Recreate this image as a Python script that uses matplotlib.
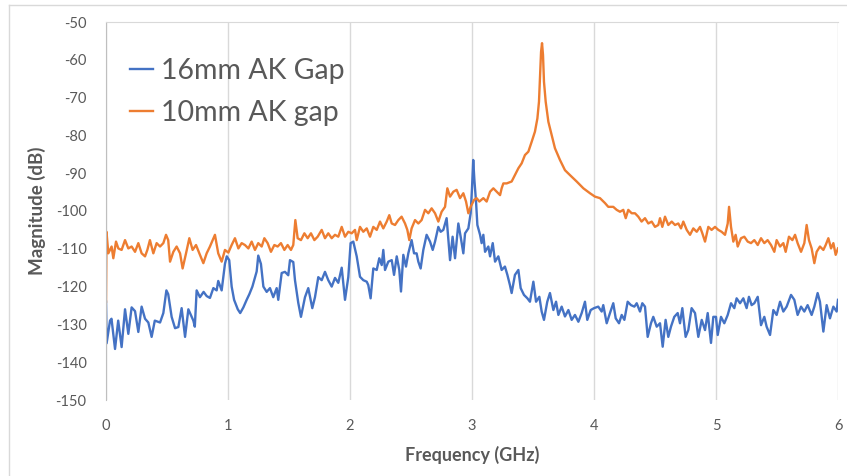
import matplotlib
matplotlib.use("Agg")
import matplotlib.pyplot as plt
from matplotlib.lines import Line2D

plt.rcParams['font.family'] = ['Lato', 'DejaVu Sans']
plt.rcParams['axes.unicode_minus'] = False

# 16mm AK gap (blue) - frequency in GHz, magnitude in dB
f_16 = [0.000, 0.005, 0.033, 0.045, 0.074, 0.100, 0.128, 0.156, 0.183, 0.210,
        0.238, 0.265, 0.292, 0.320, 0.347, 0.374, 0.400, 0.443, 0.470, 0.495,
        0.510, 0.538, 0.566, 0.593, 0.620, 0.648, 0.675, 0.716, 0.728, 0.743,
        0.770, 0.800, 0.825, 0.852, 0.880, 0.907, 0.920, 0.948, 0.975, 0.990,
        1.010, 1.030, 1.050, 1.080, 1.100, 1.126, 1.153, 1.175, 1.200, 1.235,
        1.248, 1.270, 1.290, 1.317, 1.344, 1.371, 1.399, 1.412, 1.440, 1.467,
        1.494, 1.508, 1.535, 1.549, 1.576, 1.598, 1.631, 1.658, 1.691, 1.713,
        1.740, 1.768, 1.795, 1.822, 1.850, 1.877, 1.904, 1.932, 1.959, 1.986,
        2.005, 2.027, 2.055, 2.082, 2.109, 2.137, 2.150, 2.169, 2.191, 2.219,
        2.240, 2.260, 2.273, 2.287, 2.314, 2.342, 2.361, 2.383, 2.404, 2.418,
        2.437, 2.459, 2.478, 2.505, 2.525, 2.546, 2.560, 2.579, 2.601, 2.628,
        2.656, 2.678, 2.697, 2.724, 2.743, 2.765, 2.792, 2.820, 2.841, 2.861,
        2.888, 2.907, 2.929, 2.943, 2.970, 2.989, 3.000, 3.010, 3.020, 3.033,
        3.044, 3.066, 3.079, 3.093, 3.107, 3.134, 3.148, 3.170, 3.189, 3.216,
        3.243, 3.270, 3.290, 3.311, 3.325, 3.352, 3.380, 3.399, 3.426, 3.454,
        3.475, 3.503, 3.525, 3.552, 3.571, 3.590, 3.617, 3.639, 3.667, 3.689,
        3.708, 3.735, 3.762, 3.790, 3.817, 3.844, 3.872, 3.899, 3.926, 3.945,
        3.973, 4.000, 4.035, 4.063, 4.076, 4.104, 4.131, 4.158, 4.178, 4.205,
        4.227, 4.249, 4.276, 4.303, 4.331, 4.350, 4.377, 4.396, 4.418, 4.440,
        4.467, 4.486, 4.514, 4.541, 4.563, 4.587, 4.609, 4.631, 4.658, 4.686,
        4.705, 4.724, 4.751, 4.773, 4.800, 4.828, 4.855, 4.883, 4.910, 4.932,
        4.959, 4.978, 5.000, 5.014, 5.041, 5.068, 5.096, 5.123, 5.150, 5.169,
        5.197, 5.224, 5.251, 5.270, 5.292, 5.314, 5.342, 5.369, 5.396, 5.415,
        5.443, 5.470, 5.497, 5.525, 5.552, 5.579, 5.615, 5.642, 5.669, 5.697,
        5.724, 5.751, 5.784, 5.806, 5.833, 5.852, 5.880, 5.907, 5.934, 5.962,
        5.989, 6.000]
db_16 = [-124.0, -135.0, -129.0, -128.5, -136.5, -129.0, -136.0, -126.0, -132.5, -125.5,
         -126.5, -132.0, -125.3, -128.5, -129.5, -133.3, -129.0, -129.5, -127.0, -121.0,
         -122.0, -128.0, -131.0, -130.7, -125.7, -133.3, -126.0, -129.0, -130.6, -121.0,
         -122.8, -121.4, -122.5, -123.0, -120.4, -121.0, -118.5, -121.0, -114.0, -112.0,
         -113.0, -120.0, -123.5, -126.0, -127.0, -125.5, -123.5, -122.0, -120.0, -116.0,
         -111.8, -114.0, -120.0, -121.4, -120.4, -122.8, -120.4, -123.5, -116.4, -116.1,
         -117.0, -113.0, -113.5, -118.3, -124.3, -128.0, -122.8, -120.4, -125.7, -122.8,
         -117.5, -118.3, -116.1, -118.3, -120.0, -117.7, -119.0, -115.0, -123.5, -117.5,
         -108.5, -108.1, -112.0, -117.4, -118.3, -118.7, -119.6, -123.1, -115.2, -115.6,
         -112.5, -114.3, -110.3, -115.6, -113.4, -113.0, -116.9, -112.0, -115.6, -121.3,
         -111.6, -114.7, -111.2, -107.7, -111.2, -111.2, -113.4, -115.2, -110.3, -106.3,
         -108.1, -110.3, -108.1, -104.2, -105.5, -105.0, -101.9, -113.0, -106.8, -112.5,
         -103.3, -106.8, -111.2, -105.9, -104.6, -100.6, -94.0, -86.5, -92.0, -97.5,
         -103.7, -106.3, -108.5, -106.3, -110.8, -109.4, -112.0, -108.5, -113.4, -112.0,
         -115.6, -114.7, -116.9, -119.6, -121.7, -116.9, -115.6, -120.4, -122.2, -123.1,
         -124.0, -118.7, -124.0, -122.7, -126.6, -128.8, -124.0, -121.7, -126.2, -124.0,
         -127.5, -125.3, -127.9, -126.2, -128.8, -127.5, -129.3, -127.0, -124.0, -128.8,
         -126.2, -125.7, -125.3, -126.6, -124.9, -129.7, -127.0, -124.4, -128.4, -129.7,
         -127.5, -128.8, -124.0, -124.9, -125.3, -124.4, -126.6, -124.4, -125.3, -133.3,
         -129.7, -128.0, -130.6, -129.7, -135.9, -128.8, -133.3, -130.6, -128.0, -127.0,
         -129.7, -125.7, -133.3, -131.5, -125.7, -127.0, -133.3, -128.8, -131.5, -127.0,
         -134.9, -128.0, -128.0, -132.8, -128.0, -129.7, -127.5, -124.4, -125.7, -123.1,
         -124.4, -123.1, -125.7, -122.7, -124.9, -124.4, -122.7, -130.2, -128.0, -130.6,
         -132.8, -126.2, -127.5, -124.0, -126.6, -125.3, -122.2, -123.5, -127.5, -125.3,
         -126.6, -124.9, -127.5, -125.3, -121.7, -124.0, -131.9, -124.9, -128.4, -125.3,
         -126.6, -123.5]

# 10mm AK gap (orange)
f_10 = [0.000, 0.004, 0.019, 0.046, 0.060, 0.082, 0.101, 0.128, 0.156, 0.183,
        0.210, 0.238, 0.265, 0.292, 0.320, 0.339, 0.360, 0.388, 0.415, 0.443,
        0.470, 0.492, 0.510, 0.525, 0.552, 0.579, 0.607, 0.628, 0.656, 0.683,
        0.710, 0.738, 0.765, 0.798, 0.825, 0.852, 0.893, 0.920, 0.948, 0.975,
        1.003, 1.030, 1.057, 1.085, 1.112, 1.139, 1.167, 1.194, 1.221, 1.248,
        1.276, 1.298, 1.325, 1.352, 1.380, 1.407, 1.434, 1.462, 1.489, 1.516,
        1.535, 1.552, 1.571, 1.598, 1.626, 1.653, 1.680, 1.708, 1.735, 1.768,
        1.795, 1.822, 1.850, 1.877, 1.904, 1.932, 1.959, 1.986, 2.014, 2.041,
        2.055, 2.082, 2.109, 2.137, 2.164, 2.191, 2.219, 2.246, 2.273, 2.301,
        2.322, 2.342, 2.369, 2.396, 2.423, 2.451, 2.470, 2.486, 2.505, 2.533,
        2.560, 2.587, 2.615, 2.642, 2.669, 2.697, 2.724, 2.751, 2.779, 2.798,
        2.820, 2.847, 2.874, 2.902, 2.929, 2.951, 2.970, 2.989, 3.016, 3.038,
        3.060, 3.093, 3.120, 3.148, 3.175, 3.202, 3.230, 3.243, 3.257, 3.284,
        3.325, 3.352, 3.380, 3.407, 3.434, 3.462, 3.489, 3.516, 3.536, 3.549,
        3.557, 3.566, 3.574, 3.582, 3.590, 3.604, 3.626, 3.653, 3.680, 3.721,
        3.762, 3.803, 3.858, 3.913, 3.967, 4.008, 4.049, 4.090, 4.117, 4.158,
        4.186, 4.213, 4.240, 4.260, 4.281, 4.309, 4.336, 4.363, 4.390, 4.418,
        4.445, 4.473, 4.500, 4.527, 4.541, 4.560, 4.582, 4.609, 4.637, 4.664,
        4.691, 4.713, 4.732, 4.760, 4.787, 4.814, 4.842, 4.869, 4.888, 4.910,
        4.937, 4.964, 4.992, 5.019, 5.046, 5.074, 5.096, 5.107, 5.123, 5.142,
        5.161, 5.178, 5.205, 5.232, 5.260, 5.287, 5.314, 5.342, 5.369, 5.396,
        5.423, 5.451, 5.478, 5.497, 5.525, 5.552, 5.571, 5.598, 5.626, 5.648,
        5.669, 5.697, 5.724, 5.743, 5.762, 5.784, 5.806, 5.825, 5.852, 5.880,
        5.899, 5.921, 5.943, 5.962, 5.981, 6.000]
db_10 = [-124.0, -105.5, -111.2, -109.4, -112.5, -108.1, -109.9, -110.3, -107.7, -109.9,
         -109.4, -110.8, -108.5, -111.2, -112.0, -110.3, -107.7, -111.2, -108.5, -109.4,
         -108.5, -106.3, -107.7, -113.4, -110.8, -109.4, -111.2, -115.2, -111.2, -107.2,
         -110.3, -109.0, -111.2, -113.8, -111.2, -109.4, -106.3, -111.2, -113.4, -110.3,
         -111.0, -109.0, -107.2, -109.9, -108.5, -109.0, -109.9, -108.1, -110.3, -108.5,
         -109.4, -107.2, -108.5, -110.8, -109.0, -109.4, -108.5, -110.3, -109.0, -110.3,
         -109.0, -102.4, -107.2, -107.7, -105.9, -107.2, -105.9, -107.7, -106.8, -105.0,
         -107.2, -105.9, -107.2, -106.3, -106.8, -104.2, -106.8, -105.5, -105.9, -105.0,
         -107.7, -104.2, -105.5, -104.6, -106.8, -104.2, -105.0, -102.8, -104.6, -102.8,
         -101.1, -103.3, -103.7, -102.4, -101.5, -103.3, -105.0, -107.7, -104.6, -102.4,
         -103.3, -102.4, -99.7, -100.6, -99.3, -100.6, -102.8, -100.2, -98.9, -94.0,
         -96.2, -94.9, -94.4, -96.6, -95.3, -97.5, -100.6, -98.9, -97.1, -96.6,
         -97.5, -96.6, -97.5, -94.9, -94.0, -94.9, -95.8, -94.0, -92.7, -92.7,
         -92.2, -90.5, -88.7, -87.4, -85.2, -84.3, -81.7, -79.0, -75.5, -71.1,
         -64.9, -57.9, -55.6, -58.7, -65.8, -71.1, -76.4, -79.9, -83.4, -86.5,
         -89.2, -90.5, -92.2, -94.0, -95.3, -96.2, -96.6, -97.9, -98.9, -98.9,
         -99.7, -100.2, -99.7, -101.9, -99.7, -100.6, -100.6, -101.5, -102.8, -101.9,
         -103.3, -102.8, -104.2, -103.7, -101.9, -104.2, -101.5, -103.7, -102.8, -103.7,
         -103.3, -104.6, -102.8, -105.0, -106.3, -104.6, -105.5, -104.2, -105.9, -108.1,
         -104.2, -105.0, -104.2, -105.0, -105.5, -106.3, -103.3, -98.9, -104.2, -108.1,
         -106.3, -109.4, -107.2, -106.8, -108.1, -108.5, -107.7, -109.0, -107.2, -108.5,
         -107.7, -109.0, -110.8, -107.7, -109.4, -108.5, -110.8, -106.8, -107.7, -106.3,
         -108.5, -110.8, -108.5, -103.7, -107.7, -109.9, -113.8, -110.8, -109.4, -110.3,
         -109.0, -107.2, -109.9, -108.5, -111.6, -109.9]

labels = ['16mm AK Gap', '10mm AK gap']
x_ticks = [0, 1, 2, 3, 4, 5, 6]
y_ticks = [-150, -140, -130, -120, -110, -100, -90, -80, -70, -60, -50]

fig = plt.figure(figsize=(8.47, 4.76), dpi=100)
ax = fig.add_axes([106 / 847, 1 - 400 / 476, 732 / 847, 378 / 476])

ax.plot(f_16, db_16, color='#4472C4', lw=1.7, label=labels[0])
ax.plot(f_10, db_10, color='#ED7D31', lw=1.7, label=labels[1])

ax.set_xlim(0, 6)
ax.set_ylim(-150, -50)
ax.set_xticks(x_ticks)
ax.set_yticks(y_ticks)
ax.xaxis.grid(True, color='#d9d9d9', lw=1)
ax.set_axisbelow(True)
ax.tick_params(length=0, labelsize=10.5, labelcolor='#595959')
ax.tick_params(axis='x', pad=14)
ax.tick_params(axis='y', pad=14)

for s in ['right', 'bottom']:
    ax.spines[s].set_visible(False)
ax.spines['top'].set_color('#d9d9d9')
ax.spines['left'].set_color('#bfbfbf')

ax.set_xlabel('Frequency (GHz)', fontsize=13, fontweight='bold', color='#595959', labelpad=9)
ax.set_ylabel('Magnitude (dB)', fontsize=13.5, fontweight='bold', color='#595959', labelpad=7)

leg = ax.legend(loc='upper left', bbox_to_anchor=(24 / 732, 0.905), frameon=False,
                fontsize=20.5, handlelength=0.8, handletextpad=0.3, labelspacing=0.55,
                borderpad=0, borderaxespad=0, labelcolor='#595959')

# chart border (top and left visible in the crop)
fig.add_artist(Line2D([9 / 847, 1], [1 - 5 / 476, 1 - 5 / 476], color='#d9d9d9', lw=1))
fig.add_artist(Line2D([9 / 847, 9 / 847], [0, 1 - 5 / 476], color='#d9d9d9', lw=1))

fig.savefig('out.png', dpi=100)
